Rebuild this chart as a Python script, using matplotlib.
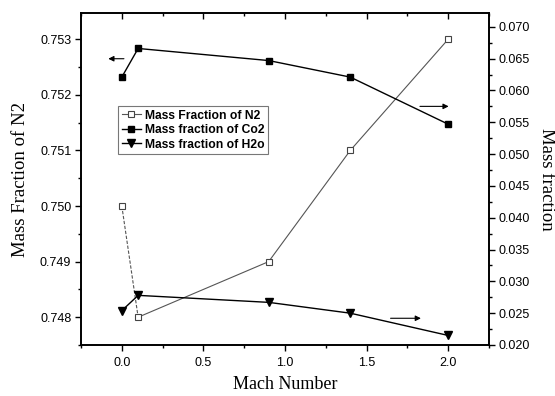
import numpy as np
import matplotlib.pyplot as plt
from matplotlib.ticker import MultipleLocator, FormatStrFormatter

# Mach number sweep
mach = [0.0, 0.1, 0.9, 1.4, 2.0]
# Left axis: N2
frac_n2 = [0.750, 0.748, 0.749, 0.751, 0.753]
# Right axis: Co2 and H2o
frac_co2 = [0.0621, 0.0666, 0.0647, 0.0621, 0.0547]
frac_h2o = [0.0254, 0.0278, 0.0267, 0.0250, 0.0215]

plt.rcParams['font.family'] = ['Liberation Sans', 'DejaVu Sans']
serif = ['Liberation Serif', 'DejaVu Serif']

fig = plt.figure(figsize=(5.55, 3.96), dpi=100)
ax = fig.add_axes([0.146, 0.1288, 0.735, 0.838])
ax2 = ax.twinx()

# N2: dashed from the first point, solid afterwards
ax.plot(mach[:2], frac_n2[:2], color='#555555', lw=0.8, ls=(0, (3, 1.5)))
ax.plot(mach[1:], frac_n2[1:], color='#555555', lw=0.8)
ax.plot(mach, frac_n2, ls='none', marker='s', ms=4.5, mfc='white', mec='#444444', mew=0.8)
h_n2, = ax.plot([], [], color='#555555', lw=0.8, marker='s', ms=4.5, mfc='white', mec='#444444', mew=0.8)

h_co2, = ax2.plot(mach, frac_co2, color='black', lw=1.0, marker='s', ms=4.5)
h_h2o, = ax2.plot(mach, frac_h2o, color='black', lw=1.0, marker='v', ms=6)

ax.set_xlim(-0.25, 2.25)
ax.set_ylim(0.7475, 0.75347)
ax2.set_ylim(0.0200, 0.07215)

ax.xaxis.set_major_locator(MultipleLocator(0.5))
ax.xaxis.set_minor_locator(MultipleLocator(0.25))
ax.yaxis.set_major_locator(MultipleLocator(0.001))
ax.yaxis.set_minor_locator(MultipleLocator(0.0005))
ax.yaxis.set_major_formatter(FormatStrFormatter('%.3f'))
ax2.yaxis.set_major_locator(MultipleLocator(0.005))
ax2.yaxis.set_minor_locator(MultipleLocator(0.0025))
ax2.yaxis.set_major_formatter(FormatStrFormatter('%.3f'))

ax.tick_params(axis='x', which='both', direction='out', top=True, labelsize=9, pad=5)
ax.tick_params(axis='y', which='both', direction='out', labelsize=9, pad=3)
ax.tick_params(which='major', length=4, width=1)
ax.tick_params(which='minor', length=2.5, width=1)
for t in ax.xaxis.get_major_ticks() + ax.xaxis.get_minor_ticks():
    t.tick2line.set_marker(3)  # top ticks point inward
ax2.tick_params(axis='y', which='both', direction='out', labelsize=9, pad=3)
ax2.tick_params(which='major', length=4, width=1)
ax2.tick_params(which='minor', length=2.5, width=1)

for a in (ax, ax2):
    for s in a.spines.values():
        s.set_linewidth(1.2)

ax.set_xlabel('Mach Number', family=serif, fontsize=13, labelpad=5)
ax.set_ylabel('Mass Fraction of N2', family=serif, fontsize=13.5, labelpad=8)
ax2.set_ylabel('Mass fraction', family=serif, fontsize=13.5, rotation=270, labelpad=18)

# arrows showing which axis each curve belongs to
arr = dict(arrowstyle='-|>', color='black', lw=0.8, mutation_scale=8)
ax.annotate('', xy=(-0.10, 0.75265), xytext=(0.03, 0.75265), arrowprops=arr)
ax2.annotate('', xy=(2.02, 0.0575), xytext=(1.81, 0.0575), arrowprops=arr)
ax2.annotate('', xy=(1.85, 0.0242), xytext=(1.63, 0.0242), arrowprops=arr)

leg = ax2.legend([h_n2, h_co2, h_h2o],
                 ['Mass Fraction of N2', 'Mass fraction of Co2', 'Mass fraction of H2o'],
                 loc='upper left', bbox_to_anchor=(0.091, 0.72), borderaxespad=0,
                 fancybox=False, framealpha=1, edgecolor='#777777',
                 prop={'weight': 'bold', 'size': 8.7}, handlelength=1.6,
                 handletextpad=0.3, labelspacing=0.2, borderpad=0.3)
leg.get_frame().set_linewidth(0.8)

fig.savefig('out.png', dpi=100)
